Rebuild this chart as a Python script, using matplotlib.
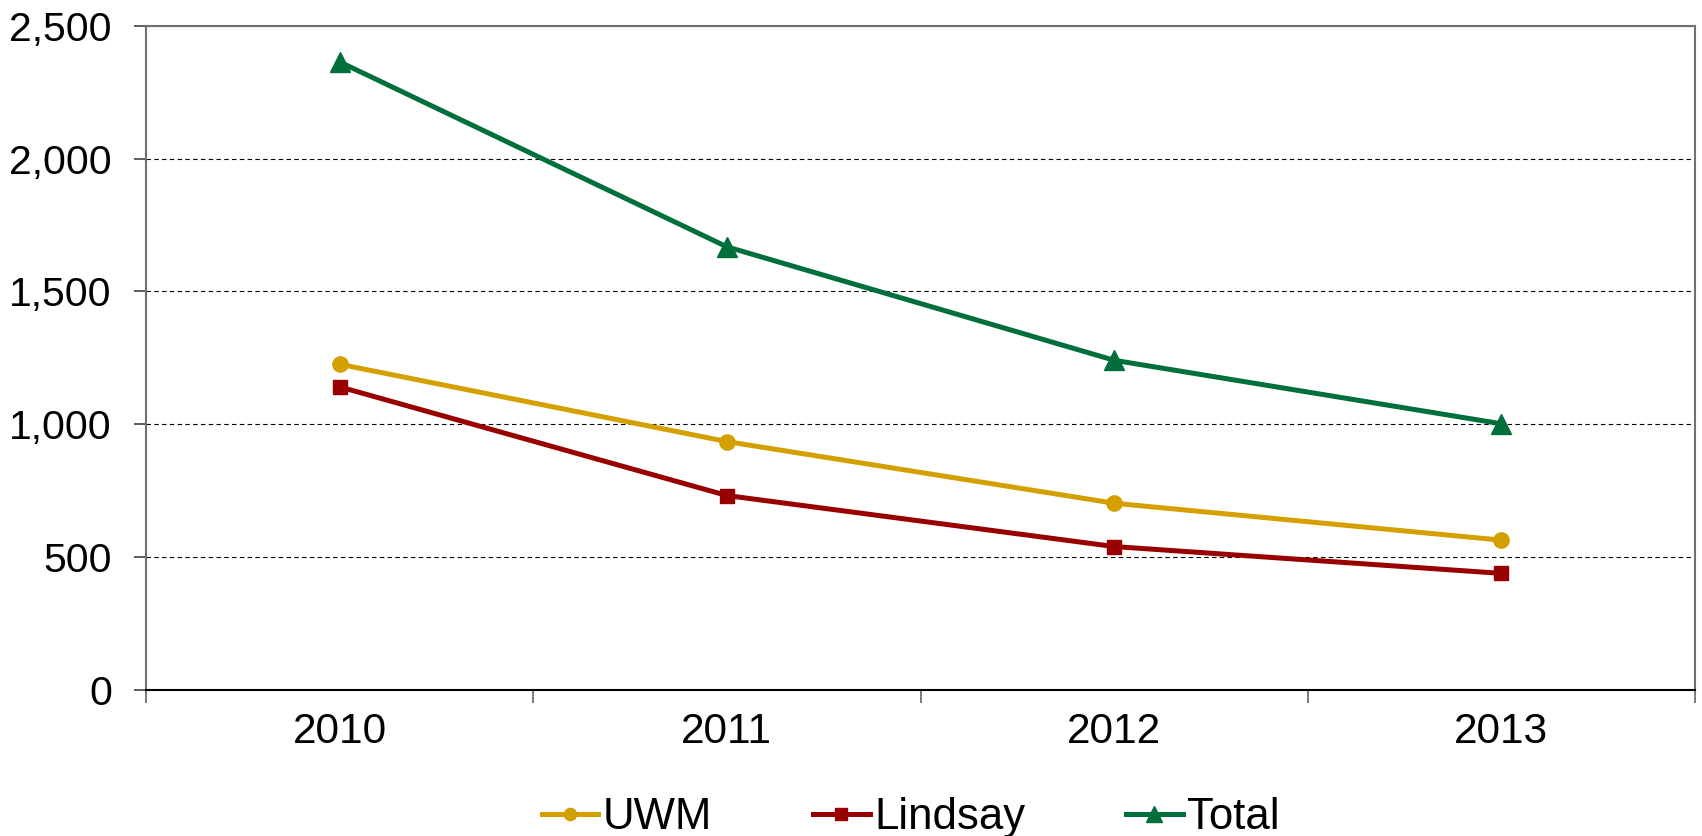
import matplotlib
matplotlib.use("Agg")
import matplotlib.pyplot as plt
from matplotlib.ticker import FuncFormatter, FixedLocator

years = ["2010", "2011", "2012", "2013"]
uwm = [1226, 935, 703, 564]
lindsay = [1141, 732, 540, 439]
total = [2364, 1668, 1241, 1002]
y_ticks = [0, 500, 1000, 1500, 2000, 2500]

plt.rcParams['font.family'] = ['Liberation Sans', 'DejaVu Sans']

fig = plt.figure(figsize=(17.02, 8.36), dpi=100)
ax = fig.add_axes([0.0858, 0.1746, 0.9101, 0.7946])

x = list(range(len(years)))
ax.plot(x, uwm, color='#D4A000', lw=3.6, marker='o', ms=11, label='UWM')
ax.plot(x, lindsay, color='#990000', lw=3.6, marker='s', ms=10.5, label='Lindsay')
ax.plot(x, total, color='#006F3C', lw=3.6, marker='^', ms=14, label='Total')

ax.set_xlim(-0.5, len(years) - 0.5)
ax.set_ylim(0, 2500)
ax.set_yticks(y_ticks)
ax.yaxis.set_major_formatter(FuncFormatter(lambda v, p: f"{v:,.0f}"))
ax.yaxis.grid(True, linestyle=(0, (4, 3)), color='black', lw=0.8)
ax.set_axisbelow(True)

# category boundaries get the tick marks, labels sit in between
ax.xaxis.set_major_locator(FixedLocator([i - 0.5 for i in range(len(years) + 1)]))
ax.xaxis.set_major_formatter(FuncFormatter(lambda v, p: ""))
ax.xaxis.set_minor_locator(FixedLocator(x))
ax.set_xticks(x, years, minor=True)
ax.tick_params(axis='x', which='major', length=9.5, width=1.3, color='#707070')
ax.tick_params(axis='x', which='minor', length=0, pad=16, labelsize=30.5)
ax.tick_params(axis='y', length=8.6, width=1.3, color='#505050', pad=16, labelsize=29.5)

for side in ['left', 'right', 'top']:
    ax.spines[side].set_color('#707070')
    ax.spines[side].set_linewidth(1.5)
ax.spines['bottom'].set_color('black')
ax.spines['bottom'].set_linewidth(1.5)

fig.legend(loc='center', bbox_to_anchor=(0.535, 0.022), ncol=3, frameon=False,
           fontsize=31.5, handlelength=1.3, handletextpad=0.1, columnspacing=2.3,
           markerscale=0.8, borderpad=0)

fig.savefig("out.png", dpi=100)
